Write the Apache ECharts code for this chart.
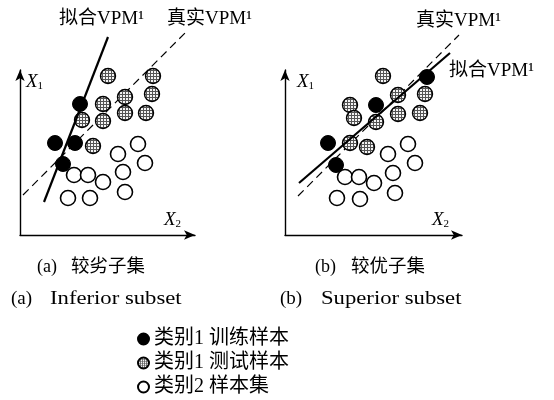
<!DOCTYPE html>
<html>
<head>
<meta charset="utf-8">
<script src="https://cdn.jsdelivr.net/npm/echarts@6/dist/echarts.min.js"></script>
<style>
html,body{margin:0;padding:0;background:#fff}
#c{width:554px;height:400px}
</style>
</head>
<body>
<div id="c"></div>
<script>
// Panel (a) — inferior subset, feature space (X2, X1)
const trainA = [[60,131],[35,92],[55,92],[43,71]];
const testA = [[88,159],[133,159],[105,138],[132,141],[83,131],[62,115],[83,114],[105,122],[126,122],[73,89]];
const class2A = [[118,91],[98,81],[125,72],[103,63],[54,60],[68,60],[83,53],[105,43],[48,37],[70,37]];
const fitA = [[24,33],[88,198]];
const trueA = [[3,40],[165,202]];

// Panel (b) — superior subset
const trainB = [[142,158],[91,130],[43,92],[51,70]];
const testB = [[98,159],[140,141],[113,140],[65,130],[69,117],[91,113],[113,121],[135,122],[65,92],[82,88]];
const class2B = [[123,91],[103,81],[130,72],[108,62],[60,58],[74,58],[89,52],[110,42],[52,37],[75,36]];
const fitB = [[14,52],[165,182]];
const trueB = [[13,39],[174,200]];

const seriesNames = ['类别1 训练样本', '类别1 测试样本', '类别2 样本集'];
const lineNames = ['拟合VPM¹', '真实VPM¹'];

const FONT = '"Liberation Serif", "Noto Sans CJK SC", serif';
const SYM = 15;

// net-like stipple fill for the test samples; symbols are drawn in a
// 2x2 local box and scaled up, so the tile is scaled back down to stay fine
function stipple() {
  const c = document.createElement('canvas');
  c.width = 3; c.height = 3;
  const g = c.getContext('2d');
  g.fillStyle = '#f4f4f4';
  g.fillRect(0, 0, 3, 3);
  g.fillStyle = '#555';
  g.fillRect(0, 0, 3, 1);
  g.fillRect(0, 0, 1, 3);
  return c;
}
const hatch = { image: stipple(), repeat: 'repeat', scaleX: 2 / SYM, scaleY: 2 / SYM };

function axisPair(gridIndex, xMax, yMax) {
  const axisLine = {
    show: true,
    symbol: ['none', 'arrow'],
    symbolSize: [7, 11],
    lineStyle: { color: '#000', width: 1.4 }
  };
  const common = {
    type: 'value', gridIndex, min: 0,
    axisLine, axisTick: { show: false }, axisLabel: { show: false },
    splitLine: { show: false }
  };
  return [
    Object.assign({}, common, { max: xMax }),
    Object.assign({}, common, { max: yMax })
  ];
}

const ax1 = axisPair(0, 175, 165);
const ax2 = axisPair(1, 177, 165);

function panelSeries(idx, train, test, cls2, fit, truth) {
  return [
    {
      name: seriesNames[0], type: 'scatter', xAxisIndex: idx, yAxisIndex: idx,
      symbol: 'circle', symbolSize: SYM, data: train, z: 5,
      itemStyle: { color: '#000', borderColor: '#000', borderWidth: 1, opacity: 1 }
    },
    {
      name: seriesNames[1], type: 'scatter', xAxisIndex: idx, yAxisIndex: idx,
      symbol: 'circle', symbolSize: SYM, data: test, z: 4,
      itemStyle: { color: hatch, borderColor: '#000', borderWidth: 1.4, opacity: 1 }
    },
    {
      name: seriesNames[2], type: 'scatter', xAxisIndex: idx, yAxisIndex: idx,
      symbol: 'circle', symbolSize: SYM, data: cls2, z: 4,
      itemStyle: { color: '#fff', borderColor: '#000', borderWidth: 1.6, opacity: 1 }
    },
    {
      name: lineNames[0], type: 'line', xAxisIndex: idx, yAxisIndex: idx,
      data: fit, showSymbol: false, symbol: 'none', clip: false, z: 6,
      lineStyle: { color: '#000', width: 2.2 }
    },
    {
      name: lineNames[1], type: 'line', xAxisIndex: idx, yAxisIndex: idx,
      data: truth, showSymbol: false, symbol: 'none', clip: false, z: 3,
      lineStyle: { color: '#000', width: 1.2, type: [8, 5] }
    }
  ];
}

function axisName(x, y, sub) {
  return {
    type: 'text', x, y,
    style: {
      text: '{i|X}{s|' + sub + '}',
      rich: {
        i: { fontFamily: FONT, fontStyle: 'italic', fontSize: 19, fill: '#000', lineHeight: 20 },
        s: { fontFamily: FONT, fontSize: 11, fill: '#000', verticalAlign: 'bottom', lineHeight: 14, padding: [8, 0, 0, 0] }
      }
    }
  };
}

function txt(x, y, text, size, sx) {
  return {
    type: 'text', x, y, scaleX: sx || 1,
    style: { text, fontFamily: FONT, fontSize: size, fill: '#000', verticalAlign: 'top' }
  };
}

const chart = echarts.init(document.getElementById('c'), null, { renderer: 'canvas' });
chart.setOption({
  backgroundColor: '#fff',
  animation: false,
  grid: [
    { left: 20, top: 70, width: 175, height: 165 },
    { left: 285, top: 70, width: 177, height: 165 }
  ],
  xAxis: [ax1[0], ax2[0]],
  yAxis: [ax1[1], ax2[1]],
  legend: {
    data: seriesNames,
    orient: 'vertical',
    left: 137, top: 329,
    padding: 0,
    itemWidth: 11, itemHeight: 11, itemGap: 4,
    icon: 'circle',
    textStyle: { fontFamily: FONT, fontSize: 20, lineHeight: 19, color: '#000' },
    selectedMode: false
  },
  series: [
    ...panelSeries(0, trainA, testA, class2A, fitA, trueA),
    ...panelSeries(1, trainB, testB, class2B, fitB, trueB)
  ],
  graphic: [
    axisName(26, 72, '1'),
    axisName(164, 210, '2'),
    axisName(297, 72, '1'),
    axisName(432, 210, '2'),
    txt(59, 10, '拟合VPM¹', 19),
    txt(167, 10, '真实VPM¹', 19),
    txt(416, 12, '真实VPM¹', 19),
    txt(449, 62, '拟合VPM¹', 19),
    txt(37, 258, '(a)', 18),
    txt(71, 258, '较劣子集', 18.5),
    txt(315, 258, '(b)', 18),
    txt(351, 258, '较优子集', 18.5),
    txt(11, 290, '(a)', 19),
    txt(50, 290, 'Inferior subset', 18, 1.26),
    txt(280, 290, '(b)', 19),
    txt(321, 290, 'Superior subset', 18, 1.26)
  ]
});
</script>
</body>
</html>
